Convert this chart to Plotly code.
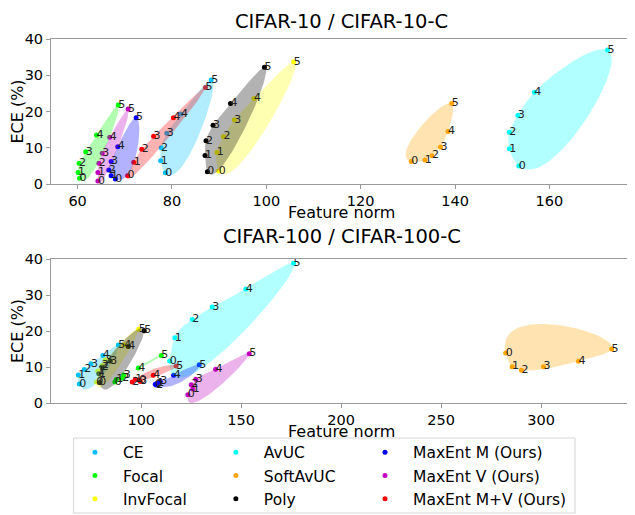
import numpy as np
import plotly.graph_objects as go

# ---------------- data ----------------
methods = ["CE", "Focal", "InvFocal", "AvUC", "SoftAvUC", "Poly",
           "MaxEnt M (Ours)", "MaxEnt V (Ours)", "MaxEnt M+V (Ours)"]
colors = ["#00bfff", "#00ff00", "#ffff00", "#00ffff", "#ffa500", "#000000",
          "#0000ff", "#bf00bf", "#ff0000"]
severity_labels = ["0", "1", "2", "3", "4", "5"]

# CIFAR-10 / CIFAR-10-C  (feature norm, ECE %)
ce10_x = [78.6, 77.6, 77.7, 78.9, 81.9, 88.3]
ce10_y = [3.1, 6.4, 10.0, 14.0, 19.3, 28.7]
focal10_x = [60.4, 60.1, 60.3, 61.7, 64.0, 68.6]
focal10_y = [1.6, 3.2, 5.7, 8.9, 13.5, 21.8]
invfocal10_x = [89.9, 89.5, 90.9, 93.2, 97.4, 105.8]
invfocal10_y = [3.6, 8.7, 13.1, 17.7, 23.6, 33.7]
avuc10_x = [153.5, 151.5, 151.5, 153.3, 156.8, 172.3]
avuc10_y = [5.0, 9.7, 14.3, 19.0, 25.3, 37.0]
softavuc10_x = [130.7, 133.6, 135.1, 136.9, 138.5, 139.3]
softavuc10_y = [6.2, 6.6, 7.8, 10.2, 14.5, 22.2]
poly10_x = [87.5, 87.0, 87.2, 88.7, 92.4, 99.6]
poly10_y = [3.4, 7.9, 11.9, 16.2, 22.2, 32.2]
maxm10_x = [68.0, 67.1, 66.6, 67.1, 68.5, 72.4]
maxm10_y = [1.4, 2.3, 3.9, 6.2, 10.3, 18.3]
maxv10_x = [64.3, 64.3, 64.5, 65.2, 66.8, 70.7]
maxv10_y = [0.8, 3.2, 5.7, 8.5, 12.9, 20.7]
maxmv10_x = [70.6, 71.9, 73.6, 76.1, 80.3, 87.1]
maxmv10_y = [2.3, 6.0, 9.6, 13.2, 18.3, 26.6]

# CIFAR-100 / CIFAR-100-C
ce100_x = [69.0, 68.5, 71.5, 74.8, 80.8, 88.5]
ce100_y = [5.3, 7.8, 9.3, 10.9, 13.2, 16.1]
focal100_x = [86.8, 87.5, 90.5, 91.2, 98.5, 110.0]
focal100_y = [5.8, 6.5, 6.9, 7.8, 9.7, 13.2]
invfocal100_x = [77.5, 78.2, 80.3, 82.0, 91.5, 98.7]
invfocal100_y = [5.8, 8.9, 10.4, 12.0, 16.1, 20.5]
avuc100_x = [114.2, 116.8, 125.5, 135.5, 152.3, 176.2]
avuc100_y = [11.7, 18.1, 23.2, 26.7, 31.7, 38.8]
softavuc100_x = [282.3, 285.5, 290.2, 301.2, 318.7, 335.3]
softavuc100_y = [13.9, 10.1, 9.1, 10.1, 11.6, 15.0]
poly100_x = [79.0, 78.8, 80.3, 84.5, 93.5, 101.5]
poly100_y = [5.7, 8.1, 10.0, 11.7, 15.7, 20.1]
maxm100_x = [107.0, 108.0, 107.5, 109.5, 116.2, 129.0]
maxm100_y = [5.2, 5.5, 5.0, 6.0, 7.7, 10.6]
maxv100_x = [123.3, 125.8, 125.0, 127.3, 137.2, 154.0]
maxv100_y = [2.3, 3.9, 5.1, 6.6, 9.4, 13.7]
maxmv100_x = [99.0, 97.0, 95.5, 99.5, 106.0, 117.5]
maxmv100_y = [6.3, 6.6, 5.8, 6.0, 7.7, 10.3]

x10_ticks = [60, 80, 100, 120, 140, 160]
x100_ticks = [100, 150, 200, 250, 300]
y_ticks = [0, 10, 20, 30, 40]

panel_titles = ["CIFAR-10 / CIFAR-10-C", "CIFAR-100 / CIFAR-100-C"]
x_title = "Feature norm"
y_title = "ECE (%)"

data10 = [(ce10_x, ce10_y), (focal10_x, focal10_y), (invfocal10_x, invfocal10_y),
          (avuc10_x, avuc10_y), (softavuc10_x, softavuc10_y), (poly10_x, poly10_y),
          (maxm10_x, maxm10_y), (maxv10_x, maxv10_y), (maxmv10_x, maxmv10_y)]
data100 = [(ce100_x, ce100_y), (focal100_x, focal100_y), (invfocal100_x, invfocal100_y),
           (avuc100_x, avuc100_y), (softavuc100_x, softavuc100_y), (poly100_x, poly100_y),
           (maxm100_x, maxm100_y), (maxv100_x, maxv100_y), (maxmv100_x, maxmv100_y)]

# ---------------- helpers ----------------
def convex_hull(xs, ys):
    pts = sorted(set(zip(xs, ys)))
    if len(pts) <= 2:
        return pts

    def cross(o, a, b):
        return (a[0] - o[0]) * (b[1] - o[1]) - (a[1] - o[1]) * (b[0] - o[0])
    lower = []
    for p in pts:
        while len(lower) >= 2 and cross(lower[-2], lower[-1], p) <= 0:
            lower.pop()
        lower.append(p)
    upper = []
    for p in reversed(pts):
        while len(upper) >= 2 and cross(upper[-2], upper[-1], p) <= 0:
            upper.pop()
        upper.append(p)
    return lower[:-1] + upper[:-1]


def smooth_hull(xs, ys, n=120):
    """Closed periodic cubic spline through the convex hull vertices."""
    hull = convex_hull(xs, ys)
    px = np.array([p[0] for p in hull], float)
    py = np.array([p[1] for p in hull], float)
    m = len(px)
    h = np.hypot(np.roll(px, -1) - px, np.roll(py, -1) - py)
    t = np.concatenate([[0.0], np.cumsum(h)])

    def second(v):
        A = np.zeros((m, m))
        r = np.zeros(m)
        for i in range(m):
            hp, hi = h[i - 1], h[i]
            A[i, (i - 1) % m] += hp
            A[i, i] += 2 * (hp + hi)
            A[i, (i + 1) % m] += hi
            r[i] = 6 * ((v[(i + 1) % m] - v[i]) / hi - (v[i] - v[i - 1]) / hp)
        return np.linalg.solve(A, r)

    Mx, My = second(px), second(py)
    tt = np.linspace(0, t[-1], n)
    ox, oy = [], []
    for T in tt:
        i = min(int(np.searchsorted(t, T, side="right")) - 1, m - 1)
        j = (i + 1) % m
        a = t[i + 1] - T
        b = T - t[i]
        hi = h[i]
        for v, M, out in ((px, Mx, ox), (py, My, oy)):
            s = (M[i] * a ** 3 / (6 * hi) + M[j] * b ** 3 / (6 * hi)
                 + (v[i] / hi - M[i] * hi / 6) * a + (v[j] / hi - M[j] * hi / 6) * b)
            out.append(s)
    return ox, oy


def rgba(hexc, a):
    hexc = hexc.lstrip("#")
    r, g, b = int(hexc[0:2], 16), int(hexc[2:4], 16), int(hexc[4:6], 16)
    return f"rgba({r},{g},{b},{a})"


FONT = "DejaVu Sans"
legend_of = ["legend", "legend", "legend", "legend2", "legend2", "legend2",
             "legend3", "legend3", "legend3"]

fig = go.Figure()
panels = [(data10, "x", "y"), (data100, "x2", "y2")]

# points
for pi, (dat, xa, ya) in enumerate(panels):
    for k, (xs, ys) in enumerate(dat):
        fig.add_trace(go.Scatter(
            x=xs, y=ys, mode="markers", xaxis=xa, yaxis=ya,
            marker=dict(color=colors[k], size=5, line=dict(width=0)),
            name=methods[k], legend=legend_of[k],
            showlegend=(pi == 0), hoverinfo="skip"))

# smooth hulls
for pi, (dat, xa, ya) in enumerate(panels):
    for k, (xs, ys) in enumerate(dat):
        hx, hy = smooth_hull(xs, ys)
        fig.add_trace(go.Scatter(
            x=hx, y=hy, mode="lines", xaxis=xa, yaxis=ya, fill="toself",
            fillcolor=rgba(colors[k], 0.3), line=dict(width=0),
            showlegend=False, hoverinfo="skip"))

# severity labels
for pi, (dat, xa, ya) in enumerate(panels):
    for k, (xs, ys) in enumerate(dat):
        fig.add_trace(go.Scatter(
            x=xs, y=ys, mode="text", xaxis=xa, yaxis=ya,
            text=severity_labels, textposition="middle right",
            textfont=dict(family=FONT, size=11, color="#222"),
            showlegend=False, hoverinfo="skip"))

axis_common = dict(showline=True, mirror=True, linecolor="#9a9a9a", linewidth=1,
                   ticks="outside", ticklen=4, tickcolor="#9a9a9a", showgrid=False,
                   zeroline=False, tickfont=dict(family=FONT, size=14.5, color="black"))

# page body has an 8px offset, so the figure is 8px smaller than the window
fig.update_layout(
    width=627, height=507,
    margin=dict(l=43, r=3, t=31, b=112, autoexpand=False),
    paper_bgcolor="white", plot_bgcolor="white",
    font=dict(family=FONT, color="black"),
    xaxis=dict(domain=[0, 1], anchor="y", range=[54.36, 177.5], tickvals=x10_ticks,
               **axis_common),
    yaxis=dict(domain=[0.6016, 1], anchor="x", range=[0, 40], tickvals=y_ticks,
               title=dict(text=y_title, font=dict(size=16), standoff=4), **axis_common),
    xaxis2=dict(domain=[0, 1], anchor="y2", range=[54.85, 345.5], tickvals=x100_ticks,
                **axis_common),
    yaxis2=dict(domain=[0, 0.3956], anchor="x2", range=[0, 40], tickvals=y_ticks,
                title=dict(text=y_title, font=dict(size=16), standoff=4), **axis_common),
    annotations=[
        dict(text=panel_titles[0], xref="paper", yref="paper", x=0.5, y=1.0852,
             xanchor="center", yanchor="top", showarrow=False,
             font=dict(family=FONT, size=19.5, color="black")),
        dict(text=panel_titles[1], xref="paper", yref="paper", x=0.5, y=0.4585,
             xanchor="center", yanchor="middle", showarrow=False,
             font=dict(family=FONT, size=19.5, color="black")),
        dict(text=x_title, xref="paper", yref="paper", x=0.5, y=0.5247,
             xanchor="center", yanchor="middle", showarrow=False,
             font=dict(family=FONT, size=16, color="black")),
        dict(text=x_title, xref="paper", yref="paper", x=0.5, y=-0.0788,
             xanchor="center", yanchor="middle", showarrow=False,
             font=dict(family=FONT, size=16, color="black")),
    ],
    shapes=[dict(type="rect", xref="paper", yref="paper", x0=0.0389, x1=0.902,
                 y0=-0.0962, y1=-0.3022, line=dict(color="#d6d6d6", width=1),
                 fillcolor="rgba(0,0,0,0)")],
)

leg_common = dict(orientation="v", xanchor="left", yanchor="top", y=-0.09,
                  itemwidth=46, tracegroupgap=0, bgcolor="rgba(0,0,0,0)", borderwidth=0,
                  font=dict(family=FONT, size=15.5, color="black"))
fig.update_layout(legend=dict(x=0.0275, **leg_common),
                  legend2=dict(x=0.270, **leg_common),
                  legend3=dict(x=0.5267, **leg_common))

fig.write_html("out.html")
